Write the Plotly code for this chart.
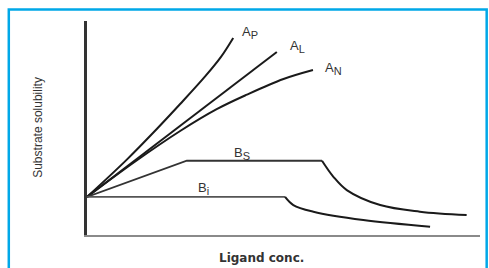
import plotly.graph_objects as go

# Phase-solubility diagram (Higuchi-Connors)
s0 = 17.8
ap_x = [0, 10, 18, 23.7, 30, 34, 37.2]
ap_y = [s0, 35, 50, 61.2, 74, 83, 92.1]
al_x = [0, 48.3]
al_y = [s0, 85.5]
an_x = [0, 12, 23.7, 33, 40.7, 50, 57.5]
an_y = [s0, 34, 48.6, 58.8, 65.6, 72.9, 77.1]
bs_x = [0, 25.4, 59.8, 62.7, 66.1, 74.6, 84.7, 96.6]
bs_y = [s0, 34.7, 34.7, 27.2, 21.0, 14.0, 10.9, 9.3]
bi_x = [0, 50.4, 52.5, 57.6, 70.3, 87.3]
bi_y = [s0, s0, 14.0, 10.9, 7.0, 3.9]

label_main = ["A", "A", "A", "B", "B"]
label_sub = ["P", "L", "N", "S", "i"]
label_x = [38.9, 51.1, 60.1, 36.9, 27.7]
label_y = [94.4, 88.3, 77.6, 38.3, 21.5]

LC = "#1a1a1a"
FONT = "Liberation Sans, Arial"
fig = go.Figure()
fig.add_trace(go.Scatter(x=ap_x, y=ap_y, mode="lines", line=dict(color=LC, width=2, shape="spline")))
fig.add_trace(go.Scatter(x=al_x, y=al_y, mode="lines", line=dict(color=LC, width=2)))
fig.add_trace(go.Scatter(x=an_x, y=an_y, mode="lines", line=dict(color=LC, width=2, shape="spline")))
fig.add_trace(go.Scatter(x=bs_x[:3], y=bs_y[:3], mode="lines", line=dict(color="#333", width=1.8)))
fig.add_trace(go.Scatter(x=bs_x[2:], y=bs_y[2:], mode="lines", line=dict(color=LC, width=2, shape="spline")))
fig.add_trace(go.Scatter(x=bi_x[:2], y=bi_y[:2], mode="lines", line=dict(color="#555", width=1.8)))
fig.add_trace(go.Scatter(x=bi_x[1:], y=bi_y[1:], mode="lines", line=dict(color=LC, width=2, shape="spline")))


def sub_label(main, sub):
    return f"{main}<sub><span style='font-size:11px'>{sub}</span></sub>"


for m, s, x, y in zip(label_main, label_sub, label_x, label_y):
    fig.add_annotation(x=x, y=y, text=sub_label(m, s), showarrow=False, xanchor="left", yanchor="middle",
                       font=dict(family=FONT, size=13, color="#333"))
fig.add_annotation(x=-1.3, y=s0 + 0.4, text=sub_label("S", "O"), showarrow=False, xanchor="right",
                   yanchor="middle", font=dict(family=FONT, size=13, color="#444"))

# axis titles as free text so the plot area keeps its place
fig.add_annotation(xref="paper", yref="paper", x=-0.125, y=0.505, text="Substrate solubility",
                   textangle=-90, showarrow=False, xanchor="center", yanchor="middle",
                   font=dict(family=FONT, size=12, color="#333"))
fig.add_annotation(xref="paper", yref="paper", x=0.445, y=-0.107, text="<b>Ligand conc.</b>",
                   showarrow=False, xanchor="center", yanchor="middle",
                   font=dict(family="DejaVu Sans", size=12, color="#333"))

# blue frame around the figure
fig.add_shape(type="rect", xref="paper", yref="paper", x0=-0.199, x1=1.017, y0=-0.2, y1=1.054,
              line=dict(color="#00a8e8", width=2.5), fillcolor="rgba(0,0,0,0)", layer="above")

fig.update_layout(
    width=489, height=268,
    margin=dict(l=87, r=9, t=21, b=33),
    paper_bgcolor="white", plot_bgcolor="white",
    showlegend=False,
    xaxis=dict(range=[0, 100], showline=True, linecolor="#8a8a8a", linewidth=2, showgrid=False,
               zeroline=False, showticklabels=False, ticks="", automargin=False),
    yaxis=dict(range=[0, 100], showline=True, linecolor="#333", linewidth=2.5, showgrid=False,
               zeroline=False, showticklabels=False, ticks="", automargin=False),
)
fig.write_html("out.html", config={"displayModeBar": False},
               post_script="document.body.style.margin='0';document.body.style.overflow='hidden';")
